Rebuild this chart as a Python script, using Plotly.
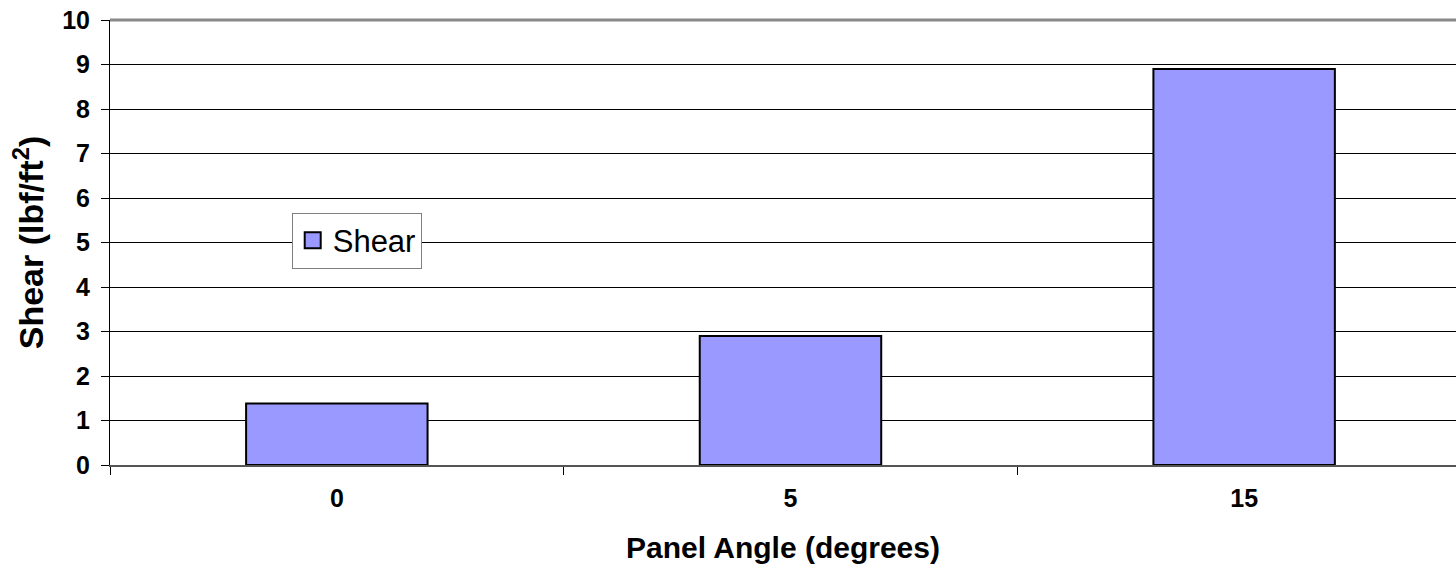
import plotly.graph_objects as go

angles = ["0", "5", "15"]
shear = [1.38, 2.9, 8.9]
y_ticks = list(range(0, 11))

BAR_FILL = "#9999FF"
FONT = "Liberation Sans, Arial, sans-serif"

fig = go.Figure()
fig.add_trace(go.Bar(
    x=angles, y=shear, name="Shear", width=0.4, showlegend=False,
    marker=dict(color=BAR_FILL, line=dict(color="black", width=2)),
))
# legend entry with a larger square key
fig.add_trace(go.Scatter(
    x=[None], y=[None], mode="markers", name="Shear",
    marker=dict(symbol="square", size=20, color=BAR_FILL, line=dict(color="black", width=2)),
))

fig.update_layout(
    width=1456, height=565,
    margin=dict(l=110, r=0, t=20, b=100),
    paper_bgcolor="white", plot_bgcolor="white",
    font=dict(family=FONT, color="black"),
    showlegend=True,
    legend=dict(
        x=0.135, y=0.567, xanchor="left", yanchor="top",
        bgcolor="white", bordercolor="#808080", borderwidth=1,
        font=dict(size=31, color="black"),
        itemwidth=30, tracegroupgap=0,
    ),
    xaxis=dict(
        type="category", range=[-0.5, 2.467],
        tickson="boundaries", ticks="outside", ticklen=8, tickcolor="black",
        ticklabelstandoff=10,
        tickfont=dict(size=25, family=FONT, weight="bold"),
        showline=True, linecolor="#555555", linewidth=2,
        showgrid=False,
        title=dict(text="<b>Panel Angle (degrees)</b>", font=dict(size=30), standoff=26),
    ),
    yaxis=dict(
        range=[0, 10], tickvals=y_ticks, ticks="outside", ticklen=8, tickcolor="black",
        ticklabelstandoff=6,
        tickfont=dict(size=25, family=FONT, weight="bold"),
        showline=True, linecolor="black", linewidth=1,
        showgrid=True, gridcolor="black", gridwidth=1,
        zeroline=False,
        title=dict(text="<b>Shear (lbf/ft<sup>2</sup>)</b>", font=dict(size=34), standoff=8),
    ),
    shapes=[dict(type="line", xref="paper", yref="paper", x0=0, x1=1, y0=1, y1=1,
                 line=dict(color="#888888", width=3))],
)

fig.write_html("out.html")
